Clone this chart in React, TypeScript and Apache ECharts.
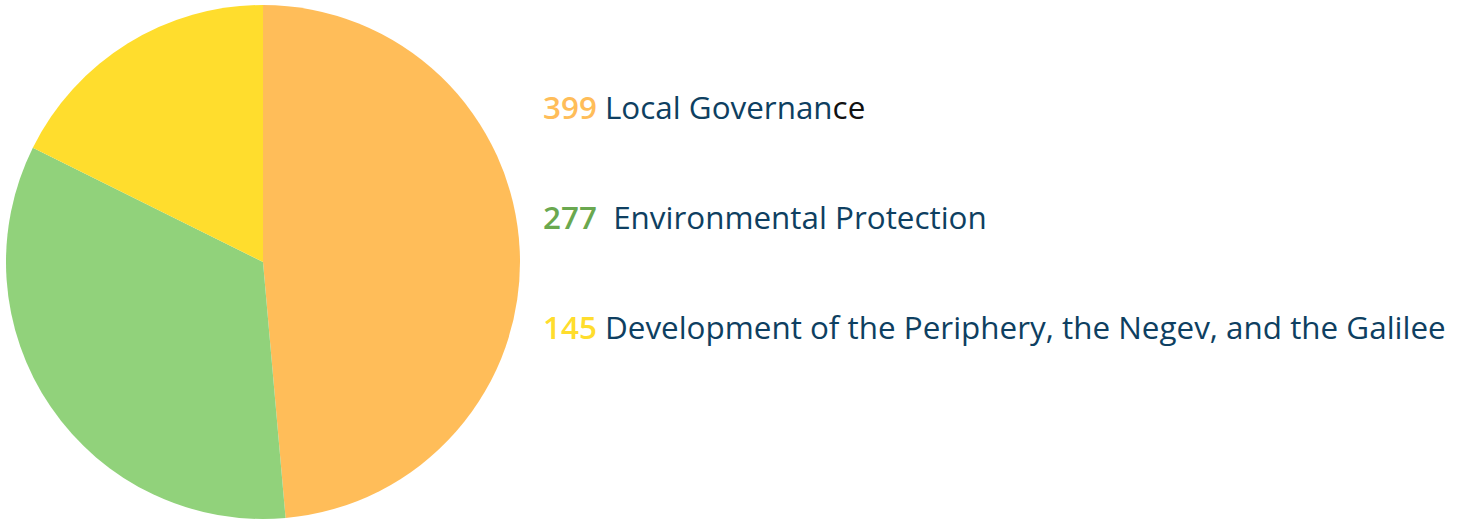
import React, { useEffect, useRef } from "react";
import * as echarts from "echarts";

const categories = ["Local Governance", " Environmental Protection", "Development of the Periphery, the Negev, and the Galilee"];
const values = [399, 277, 145];
const sliceColors = ["#FFBD59", "#91D27B", "#FFDD2D"];
const numberColors = ["#FFBD59", "#6AA84F", "#FFDD2D"];

const FONT = "Open Sans";
const SIZE = 31.4;

export default function App() {
  const ref = useRef<HTMLDivElement>(null);
  useEffect(() => {
    document.body.style.margin = "0";
    const chart = echarts.init(ref.current!, null, { renderer: "svg" });
    const rich: any = {
      lbl: { color: "#0E3F61", fontSize: SIZE, fontFamily: FONT, lineHeight: 30 },
      blk: { color: "#111111", fontSize: SIZE, fontFamily: FONT, lineHeight: 30 },
    };
    numberColors.forEach((c, i) => {
      rich["n" + i] = { color: c, fontSize: SIZE, fontWeight: 600, fontFamily: FONT, lineHeight: 30 };
    });
    chart.setOption({
      animation: false,
      legend: {
        orient: "vertical",
        left: 533,
        top: 86,
        itemGap: 79,
        itemWidth: 0,
        itemHeight: 0,
        icon: "none",
        selectedMode: false,
        data: categories,
        textStyle: { rich, fontSize: SIZE, fontFamily: FONT, lineHeight: 30 },
        formatter: (name: string) => {
          const i = categories.indexOf(name);
          if (i === 0) {
            return `{n${i}|${values[i]}} {lbl|${name.slice(0, -2)}}{blk|${name.slice(-2)}}`;
          }
          return `{n${i}|${values[i]}} {lbl|${name}}`;
        },
      },
      series: [
        {
          type: "pie",
          center: [263, 262],
          radius: [0, 257],
          startAngle: 90,
          clockwise: true,
          label: { show: false },
          labelLine: { show: false },
          emphasis: { disabled: true },
          itemStyle: { borderWidth: 0 },
          data: categories.map((c, i) => ({ name: c, value: values[i], itemStyle: { color: sliceColors[i] } })),
        },
      ],
    });
    return () => chart.dispose();
  }, []);
  return <div ref={ref} style={{ width: 1466, height: 522 }} />;
}
